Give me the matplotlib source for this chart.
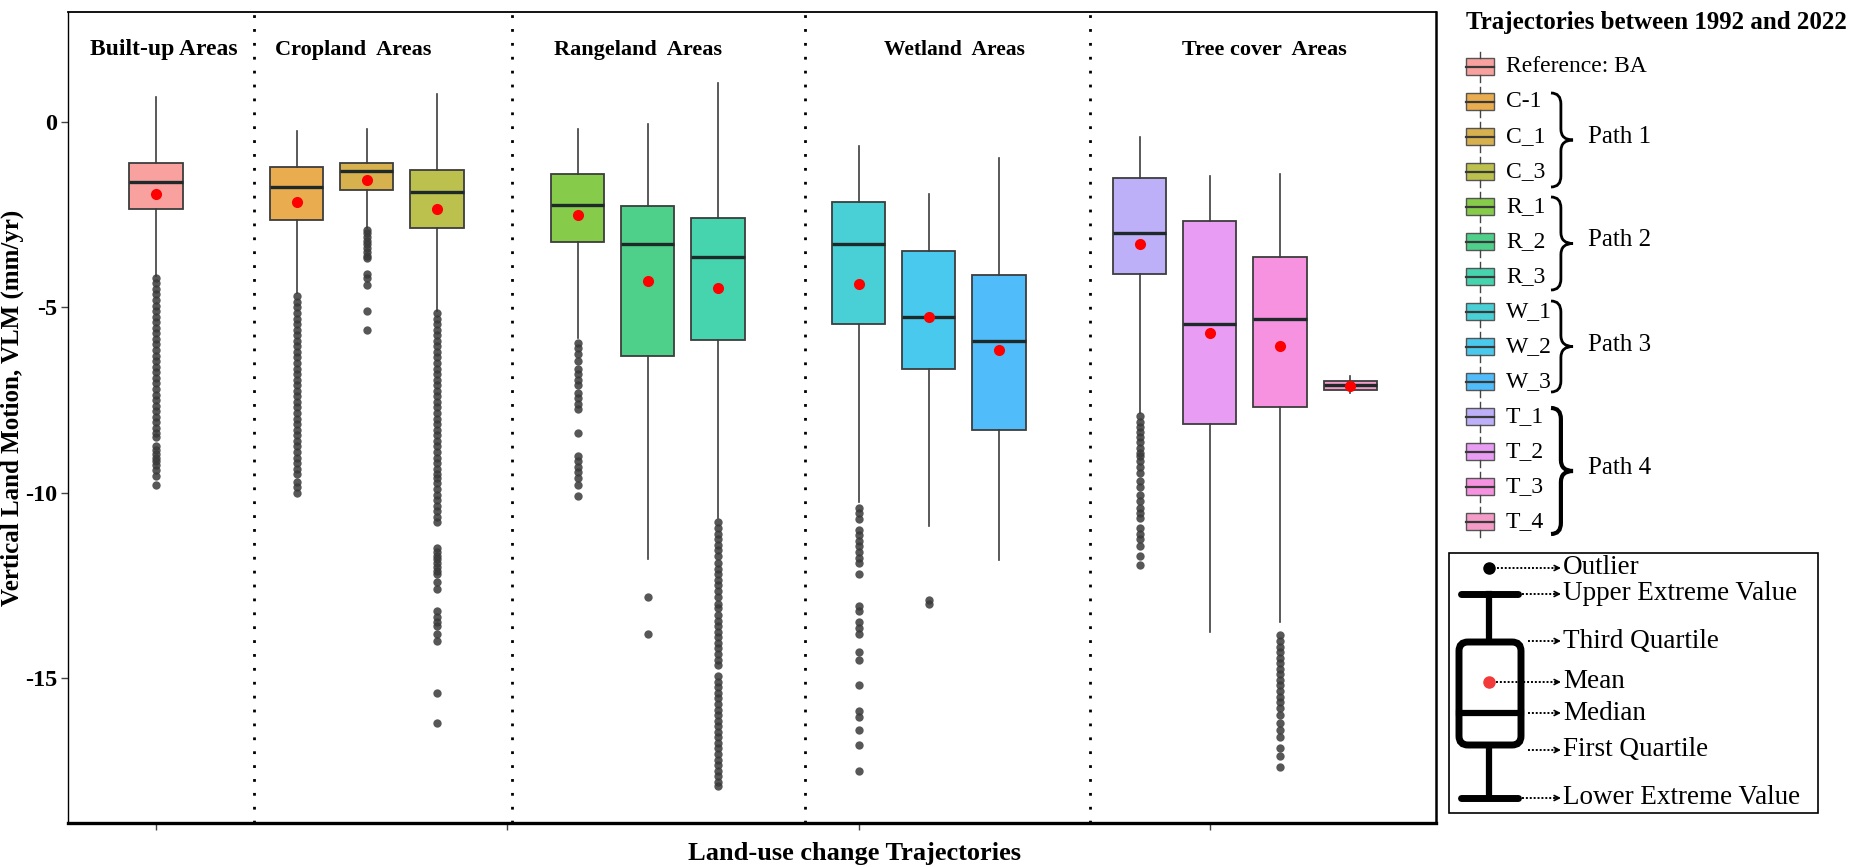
import matplotlib
matplotlib.use('Agg')
import matplotlib.pyplot as plt
from matplotlib.patches import Rectangle, FancyBboxPatch, PathPatch
from matplotlib.path import Path

plt.rcParams['font.family'] = ['Liberation Serif', 'DejaVu Serif']

W, H = 1853, 867

# ---- data ----
labels = ['Reference: BA', 'C-1', 'C_1', 'C_3', 'R_1', 'R_2', 'R_3',
          'W_1', 'W_2', 'W_3', 'T_1', 'T_2', 'T_3', 'T_4']
positions = [0, 2, 3, 4, 6, 7, 8, 10, 11, 12, 14, 15, 16, 17]
colors = ['#F8A19E', '#E9AC4E', '#D7B14E', '#BCC04C', '#86CC4A', '#4ED08A', '#46D4AE',
          '#48D0D6', '#49C9EE', '#50BDFA', '#BDAFF8', '#E89CF4', '#F692DF', '#F59BC8']

q3 = [-1.10, -1.20, -1.10, -1.29, -1.41, -2.26, -2.59, -2.15, -3.49, -4.13, -1.50, -2.68, -3.65, -6.98]
med = [-1.61, -1.76, -1.31, -1.88, -2.25, -3.30, -3.63, -3.30, -5.25, -5.90, -2.98, -5.44, -5.32, -7.09]
q1 = [-2.35, -2.64, -1.83, -2.85, -3.24, -6.30, -5.89, -5.44, -6.66, -8.32, -4.09, -8.14, -7.70, -7.22]
mean = [-1.94, -2.15, -1.55, -2.35, -2.51, -4.30, -4.47, -4.38, -5.27, -6.16, -3.29, -5.68, -6.04, -7.11]
whishi = [0.68, -0.23, -0.19, 0.77, -0.19, -0.04, 1.06, -0.64, -1.94, -0.96, -0.40, -1.46, -1.41, -6.85]
whislo = [-4.15, -4.60, -2.85, -5.10, -5.82, -11.78, -10.67, -10.25, -10.89, -11.82, -7.85, -13.76, -13.50, -7.31]

fliers_BA = [-4.2, -4.35, -4.5, -4.65, -4.8, -4.95, -5.1, -5.25, -5.4, -5.55, -5.7, -5.85,
             -6.0, -6.15, -6.3, -6.45, -6.6, -6.75, -6.9, -7.05, -7.2, -7.35, -7.5, -7.65,
             -7.8, -7.95, -8.1, -8.25, -8.4, -8.5, -8.75, -8.85, -8.95, -9.05, -9.15, -9.25,
             -9.38, -9.56, -9.78]
fliers_C1a = [-4.7, -4.85, -5.0, -5.15, -5.3, -5.45, -5.6, -5.75, -5.9, -6.05, -6.2, -6.35,
              -6.5, -6.65, -6.8, -6.95, -7.1, -7.25, -7.4, -7.55, -7.7, -7.85, -8.0, -8.15,
              -8.3, -8.45, -8.6, -8.75, -8.9, -9.05, -9.2, -9.35, -9.5, -9.7, -9.85, -10.0]
fliers_C1b = [-2.9, -3.0, -3.1, -3.2, -3.3, -3.4, -3.5, -3.6, -3.68, -4.1, -4.2, -4.4, -5.1, -5.6]
fliers_C3 = [-5.15, -5.3, -5.45, -5.6, -5.75, -5.9, -6.05, -6.2, -6.35, -6.5, -6.65, -6.8,
             -6.95, -7.1, -7.25, -7.4, -7.55, -7.7, -7.85, -8.0, -8.15, -8.3, -8.45, -8.6,
             -8.75, -8.9, -9.05, -9.2, -9.35, -9.5, -9.6, -9.75, -9.9, -10.05, -10.2, -10.35,
             -10.5, -10.65, -10.8, -11.5, -11.6, -11.7, -11.8, -11.9, -12.0, -12.1, -12.2,
             -12.4, -12.6, -13.2, -13.35, -13.5, -13.6, -13.8, -14.0, -15.4, -16.2]
fliers_R1 = [-5.95, -6.1, -6.25, -6.45, -6.65, -6.8, -6.95, -7.1, -7.3, -7.45, -7.6, -7.75,
             -8.4, -9.0, -9.15, -9.3, -9.45, -9.6, -9.8, -10.1]
fliers_R2 = [-12.82, -13.8]
fliers_R3 = [-10.8, -10.95, -11.1, -11.25, -11.4, -11.55, -11.7, -11.9, -12.05, -12.2, -12.35,
             -12.5, -12.65, -12.8, -13.0, -13.1, -13.3, -13.45, -13.6, -13.75, -13.9, -14.05,
             -14.2, -14.35, -14.5, -14.65, -14.95, -15.1, -15.25, -15.4, -15.55, -15.7, -15.85,
             -16.0, -16.15, -16.3, -16.45, -16.6, -16.75, -16.9, -17.05, -17.2, -17.35, -17.5,
             -17.65, -17.8, -17.9]
fliers_W1 = [-10.4, -10.55, -10.7, -11.0, -11.15, -11.3, -11.45, -11.6, -11.75, -11.9, -12.2,
             -13.05, -13.2, -13.5, -13.65, -13.8, -14.3, -14.5, -15.2, -15.9, -16.05, -16.4,
             -16.8, -17.5]
fliers_W2 = [-12.9, -13.0]
fliers_W3 = []
fliers_T1 = [-7.94, -8.08, -8.22, -8.36, -8.5, -8.64, -8.78, -8.92, -9.02, -9.15, -9.3, -9.47,
             -9.69, -9.85, -10.05, -10.23, -10.4, -10.55, -10.68, -10.95, -11.1, -11.25,
             -11.45, -11.7, -11.94]
fliers_T2 = []
fliers_T3 = [-13.85, -14.0, -14.15, -14.3, -14.45, -14.6, -14.75, -14.9, -15.05, -15.2, -15.35,
             -15.5, -15.65, -15.8, -16.0, -16.2, -16.4, -16.6, -16.9, -17.1, -17.4]
fliers_T4 = []
fliers = [fliers_BA, fliers_C1a, fliers_C1b, fliers_C3, fliers_R1, fliers_R2, fliers_R3,
          fliers_W1, fliers_W2, fliers_W3, fliers_T1, fliers_T2, fliers_T3, fliers_T4]

group_names = ['Built-up Areas', 'Cropland  Areas', 'Rangeland  Areas', 'Wetland  Areas', 'Tree cover  Areas']
group_centers = [0.11, 2.8, 6.86, 11.36, 15.77]
group_sizes = [17, 16, 16, 15.5, 16]
divider_x = [1.39, 5.07, 9.24, 13.3]

paths = ['Path 1', 'Path 2', 'Path 3', 'Path 4']

fig = plt.figure(figsize=(W / 100, H / 100), dpi=100)
ax = fig.add_axes([68 / W, 1 - 823 / H, (1436 - 68) / W, (823 - 12) / H])

stats = []
for i in range(len(labels)):
    stats.append(dict(label=labels[i], q1=q1[i], med=med[i], q3=q3[i], mean=mean[i],
                      whislo=whislo[i], whishi=whishi[i], fliers=fliers[i]))

bp = ax.bxp(stats, positions=positions, widths=0.76, patch_artist=True,
            showmeans=True, showcaps=False,
            boxprops=dict(edgecolor='#3d3d3d', linewidth=1.3),
            medianprops=dict(color='#1e2a2a', linewidth=2.4),
            whiskerprops=dict(color='#3d3d3d', linewidth=1.2),
            flierprops=dict(marker='o', markersize=6, markerfacecolor='#3a3a3a',
                            markeredgecolor='none', alpha=0.85),
            meanprops=dict(marker='o', markersize=8, markerfacecolor='#ff0000',
                           markeredgecolor='none'))
for patch, c in zip(bp['boxes'], colors):
    patch.set_facecolor(c)

for x in divider_x:
    ax.axvline(x, color='black', lw=2, linestyle=(0, (1, 4)), zorder=0)

for name, cx, fs in zip(group_names, group_centers, group_sizes):
    ax.text(cx, 1.95, name, ha='center', va='center', fontsize=fs, fontweight='bold')

ax.set_xlim(-1.253, 18.22)
ax.set_ylim(-18.91, 2.97)
ax.set_xticks([0, 5, 10, 15])
ax.set_xticklabels([])
ax.set_yticks([0, -5, -10, -15])
ax.set_yticklabels(['0', '-5', '-10', '-15'], fontsize=17.5, fontweight='bold')
ax.tick_params(axis='both', length=5, width=1, color='#444')
ax.tick_params(axis='y', pad=3)
ax.spines['left'].set_linewidth(1.0)
ax.spines['top'].set_linewidth(1.3)
ax.spines['right'].set_linewidth(1.8)
ax.spines['bottom'].set_linewidth(2.4)

ax.set_xlabel('Land-use change Trajectories', fontsize=19, fontweight='bold')
ax.xaxis.set_label_coords(0.5746, -0.037)
ax.xaxis.label.set_va('center')
ax.set_ylabel('Vertical Land Motion, VLM (mm/yr)', fontsize=18, fontweight='bold')
ax.yaxis.set_label_coords(-0.0405, 0.512)
ax.yaxis.label.set_va('center')

# ---- overlay in pixel coordinates for the legend panel ----
ov = fig.add_axes([0, 0, 1, 1])
ov.set_xlim(0, W)
ov.set_ylim(H, 0)
ov.axis('off')

ov.text(1656, 22, 'Trajectories between 1992 and 2022', ha='center', va='center',
        fontsize=18, fontweight='bold')

for i, lab in enumerate(labels):
    y = 66.7 + 35 * i
    ov.add_patch(Rectangle((1466, y - 8.5), 28, 17, fc=colors[i], ec='#555555', lw=1))
    ov.plot([1480, 1480], [y - 15, y - 8.5], color='#444444', lw=1)
    ov.plot([1480, 1480], [y + 8.5, y + 15], color='#444444', lw=1)
    ov.plot([1466, 1494], [y, y], color='#3a3a3a', lw=1.6)
    ov.text(1506, y, lab, ha='left', va='center', fontsize=17)


def brace(a, x0, y0, y1, w, lw):
    xm = x0 + w * 0.45
    tip = x0 + w
    ymid = (y0 + y1) / 2
    r = w * 0.5
    verts = [(x0, y0), (xm, y0), (xm, y0 + r), (xm, ymid - r), (xm, ymid), (tip, ymid),
             (xm, ymid), (xm, ymid + r), (xm, y1 - r), (xm, y1), (x0, y1)]
    codes = [Path.MOVETO, Path.CURVE3, Path.CURVE3, Path.LINETO, Path.CURVE3, Path.CURVE3,
             Path.CURVE3, Path.CURVE3, Path.LINETO, Path.CURVE3, Path.CURVE3]
    a.add_patch(PathPatch(Path(verts, codes), fill=False, ec='black', lw=lw))


brace_spans = [(93, 187), (197, 290), (301, 392), (408, 534)]
path_y = [136.7, 240, 345, 468]
for (y0, y1), py, p, lw in zip(brace_spans, path_y, paths, [2, 2, 2, 3]):
    brace(ov, 1551, y0, y1, 22, lw)
    ov.text(1588, py, p, ha='left', va='center', fontsize=18)

# schematic box legend
ov.add_patch(Rectangle((1449, 553), 1818 - 1449, 813 - 553, fill=False, ec='black', lw=1.2))
ov.add_patch(FancyBboxPatch((1459, 642), 62, 103, boxstyle='round,pad=0,rounding_size=9',
                            fill=False, ec='black', lw=5))
ov.plot([1461, 1518], [594, 594], color='black', lw=5, solid_capstyle='round')
ov.plot([1461, 1518], [798, 798], color='black', lw=5, solid_capstyle='round')
ov.plot([1489, 1489], [594, 639], color='black', lw=4.5)
ov.plot([1489, 1489], [748, 798], color='black', lw=4.5)
ov.plot([1459, 1521], [713, 713], color='black', lw=4.5)
ov.plot(1489, 568, 'o', ms=8, color='black')
ov.plot(1489, 682, 'o', ms=8, color='#f23a3a')

key_items = [('Outlier', 568, 1497), ('Upper Extreme Value', 594, 1522),
             ('Third Quartile', 641, 1528), ('Mean', 682, 1496), ('Median', 713, 1528),
             ('First Quartile', 750, 1528), ('Lower Extreme Value', 798, 1522)]
for txt, y, xs in key_items:
    xe = 1561
    ov.plot([xs, xe - 3], [y, y], color='black', lw=1.4, linestyle=(0, (1, 1)))
    ov.annotate('', xy=(xe, y), xytext=(xe - 6, y),
                arrowprops=dict(arrowstyle='->', lw=1.2, color='black',
                                shrinkA=0, shrinkB=0, mutation_scale=9))
    ov.text(xe + 2, y, txt, ha='left', va='center', fontsize=19.5)

fig.savefig('out.png', dpi=100)
